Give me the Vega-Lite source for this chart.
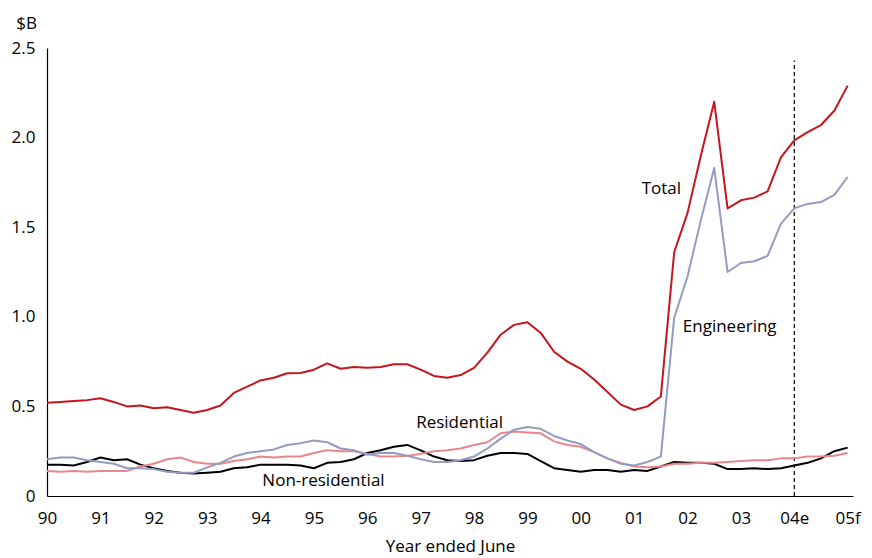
{
  "$schema": "https://vega.github.io/schema/vega-lite/v6.json",
  "autosize": {"type": "none"},
  "width": 806,
  "height": 448,
  "padding": {"left": 47, "top": 48, "right": 19, "bottom": 62},
  "background": "#ffffff",
  "config": {
    "view": {"stroke": null},
    "font": "Open Sans",
    "axis": {"grid": false, "ticks": false, "tickSize": 0, "domainColor": "#000000", "domainWidth": 1.2, "labelColor": "#000000", "labelFont": "Open Sans", "labelFontSize": 17, "titleFont": "Open Sans", "titleFontSize": 17, "titleFontWeight": "normal", "titleColor": "#000000"}
  },
  "datasets": {
    "series": [
      {"t": 1990.00, "Total": 0.52, "Engineering": 0.205, "Residential": 0.14, "Non-residential": 0.175},
      {"t": 1990.25, "Total": 0.525, "Engineering": 0.215, "Residential": 0.135, "Non-residential": 0.175},
      {"t": 1990.50, "Total": 0.53, "Engineering": 0.215, "Residential": 0.14, "Non-residential": 0.17},
      {"t": 1990.75, "Total": 0.535, "Engineering": 0.20, "Residential": 0.135, "Non-residential": 0.19},
      {"t": 1991.00, "Total": 0.545, "Engineering": 0.19, "Residential": 0.14, "Non-residential": 0.215},
      {"t": 1991.25, "Total": 0.525, "Engineering": 0.18, "Residential": 0.14, "Non-residential": 0.20},
      {"t": 1991.50, "Total": 0.50, "Engineering": 0.155, "Residential": 0.14, "Non-residential": 0.205},
      {"t": 1991.75, "Total": 0.505, "Engineering": 0.155, "Residential": 0.165, "Non-residential": 0.175},
      {"t": 1992.00, "Total": 0.49, "Engineering": 0.15, "Residential": 0.18, "Non-residential": 0.155},
      {"t": 1992.25, "Total": 0.495, "Engineering": 0.135, "Residential": 0.205, "Non-residential": 0.14},
      {"t": 1992.50, "Total": 0.48, "Engineering": 0.13, "Residential": 0.215, "Non-residential": 0.13},
      {"t": 1992.75, "Total": 0.465, "Engineering": 0.13, "Residential": 0.19, "Non-residential": 0.125},
      {"t": 1993.00, "Total": 0.48, "Engineering": 0.16, "Residential": 0.18, "Non-residential": 0.13},
      {"t": 1993.25, "Total": 0.505, "Engineering": 0.185, "Residential": 0.18, "Non-residential": 0.135},
      {"t": 1993.50, "Total": 0.575, "Engineering": 0.22, "Residential": 0.195, "Non-residential": 0.155},
      {"t": 1993.75, "Total": 0.61, "Engineering": 0.24, "Residential": 0.205, "Non-residential": 0.16},
      {"t": 1994.00, "Total": 0.645, "Engineering": 0.25, "Residential": 0.22, "Non-residential": 0.175},
      {"t": 1994.25, "Total": 0.66, "Engineering": 0.26, "Residential": 0.215, "Non-residential": 0.175},
      {"t": 1994.50, "Total": 0.685, "Engineering": 0.285, "Residential": 0.22, "Non-residential": 0.175},
      {"t": 1994.75, "Total": 0.686, "Engineering": 0.295, "Residential": 0.22, "Non-residential": 0.17},
      {"t": 1995.00, "Total": 0.705, "Engineering": 0.31, "Residential": 0.24, "Non-residential": 0.155},
      {"t": 1995.25, "Total": 0.74, "Engineering": 0.30, "Residential": 0.255, "Non-residential": 0.185},
      {"t": 1995.50, "Total": 0.71, "Engineering": 0.265, "Residential": 0.25, "Non-residential": 0.19},
      {"t": 1995.75, "Total": 0.72, "Engineering": 0.255, "Residential": 0.25, "Non-residential": 0.205},
      {"t": 1996.00, "Total": 0.715, "Engineering": 0.23, "Residential": 0.235, "Non-residential": 0.24},
      {"t": 1996.25, "Total": 0.72, "Engineering": 0.24, "Residential": 0.22, "Non-residential": 0.255},
      {"t": 1996.50, "Total": 0.735, "Engineering": 0.24, "Residential": 0.22, "Non-residential": 0.275},
      {"t": 1996.75, "Total": 0.735, "Engineering": 0.225, "Residential": 0.225, "Non-residential": 0.285},
      {"t": 1997.00, "Total": 0.705, "Engineering": 0.205, "Residential": 0.235, "Non-residential": 0.255},
      {"t": 1997.25, "Total": 0.67, "Engineering": 0.19, "Residential": 0.25, "Non-residential": 0.22},
      {"t": 1997.50, "Total": 0.66, "Engineering": 0.19, "Residential": 0.255, "Non-residential": 0.20},
      {"t": 1997.75, "Total": 0.675, "Engineering": 0.20, "Residential": 0.265, "Non-residential": 0.195},
      {"t": 1998.00, "Total": 0.715, "Engineering": 0.22, "Residential": 0.285, "Non-residential": 0.20},
      {"t": 1998.25, "Total": 0.80, "Engineering": 0.265, "Residential": 0.30, "Non-residential": 0.225},
      {"t": 1998.50, "Total": 0.90, "Engineering": 0.32, "Residential": 0.35, "Non-residential": 0.24},
      {"t": 1998.75, "Total": 0.955, "Engineering": 0.37, "Residential": 0.36, "Non-residential": 0.24},
      {"t": 1999.00, "Total": 0.97, "Engineering": 0.385, "Residential": 0.355, "Non-residential": 0.235},
      {"t": 1999.25, "Total": 0.91, "Engineering": 0.375, "Residential": 0.35, "Non-residential": 0.195},
      {"t": 1999.50, "Total": 0.805, "Engineering": 0.335, "Residential": 0.305, "Non-residential": 0.155},
      {"t": 1999.75, "Total": 0.75, "Engineering": 0.31, "Residential": 0.285, "Non-residential": 0.145},
      {"t": 2000.00, "Total": 0.71, "Engineering": 0.29, "Residential": 0.275, "Non-residential": 0.135},
      {"t": 2000.25, "Total": 0.65, "Engineering": 0.245, "Residential": 0.245, "Non-residential": 0.145},
      {"t": 2000.50, "Total": 0.58, "Engineering": 0.21, "Residential": 0.21, "Non-residential": 0.145},
      {"t": 2000.75, "Total": 0.51, "Engineering": 0.18, "Residential": 0.185, "Non-residential": 0.135},
      {"t": 2001.00, "Total": 0.48, "Engineering": 0.17, "Residential": 0.165, "Non-residential": 0.145},
      {"t": 2001.25, "Total": 0.50, "Engineering": 0.19, "Residential": 0.16, "Non-residential": 0.14},
      {"t": 2001.50, "Total": 0.555, "Engineering": 0.22, "Residential": 0.165, "Non-residential": 0.165},
      {"t": 2001.75, "Total": 1.36, "Engineering": 0.995, "Residential": 0.18, "Non-residential": 0.19},
      {"t": 2002.00, "Total": 1.58, "Engineering": 1.225, "Residential": 0.18, "Non-residential": 0.185},
      {"t": 2002.25, "Total": 1.90, "Engineering": 1.54, "Residential": 0.185, "Non-residential": 0.185},
      {"t": 2002.50, "Total": 2.20, "Engineering": 1.83, "Residential": 0.185, "Non-residential": 0.18},
      {"t": 2002.75, "Total": 1.605, "Engineering": 1.25, "Residential": 0.19, "Non-residential": 0.15},
      {"t": 2003.00, "Total": 1.65, "Engineering": 1.30, "Residential": 0.195, "Non-residential": 0.15},
      {"t": 2003.25, "Total": 1.665, "Engineering": 1.31, "Residential": 0.20, "Non-residential": 0.155},
      {"t": 2003.50, "Total": 1.70, "Engineering": 1.34, "Residential": 0.20, "Non-residential": 0.15},
      {"t": 2003.75, "Total": 1.89, "Engineering": 1.52, "Residential": 0.21, "Non-residential": 0.155},
      {"t": 2004.00, "Total": 1.985, "Engineering": 1.605, "Residential": 0.21, "Non-residential": 0.17},
      {"t": 2004.25, "Total": 2.03, "Engineering": 1.63, "Residential": 0.22, "Non-residential": 0.185},
      {"t": 2004.50, "Total": 2.07, "Engineering": 1.64, "Residential": 0.22, "Non-residential": 0.21},
      {"t": 2004.75, "Total": 2.15, "Engineering": 1.68, "Residential": 0.225, "Non-residential": 0.25},
      {"t": 2005.00, "Total": 2.29, "Engineering": 1.78, "Residential": 0.24, "Non-residential": 0.27}
    ],
    "labels": [
      {"label": "Total", "t": 2001.51, "v": 1.683},
      {"label": "Engineering", "t": 2002.79, "v": 0.915},
      {"label": "Residential", "t": 1997.73, "v": 0.379},
      {"label": "Non-residential", "t": 1995.18, "v": 0.056}
    ],
    "marker": [
      {"t": 2004, "from": 0, "to": 2.43}
    ]
  },
  "layer": [
    {
      "data": {"name": "marker"},
      "mark": {"type": "rule", "strokeDash": [4, 3], "strokeWidth": 1.2, "color": "#000000"},
      "encoding": {
        "x": {"field": "t", "type": "quantitative"},
        "y": {"field": "from", "type": "quantitative"},
        "y2": {"field": "to"}
      }
    },
    {
      "data": {"name": "series"},
      "transform": [
        {"fold": ["Non-residential", "Residential", "Engineering", "Total"], "as": ["series", "value"]}
      ],
      "mark": {"type": "line", "strokeWidth": 2, "strokeJoin": "round"},
      "encoding": {
        "x": {
          "field": "t", "type": "quantitative",
          "scale": {"domain": [1990, 2005.1], "nice": false, "zero": false},
          "axis": {
            "title": "Year ended June",
            "values": [1990, 1991, 1992, 1993, 1994, 1995, 1996, 1997, 1998, 1999, 2000, 2001, 2002, 2003, 2004, 2005],
            "labelExpr": "datum.value == 2004 ? '04e' : datum.value == 2005 ? '05f' : format(datum.value % 100, '02d')",
            "labelPadding": 14,
            "titlePadding": 12,
            "labelFlush": false,
            "labelOverlap": false
          }
        },
        "y": {
          "field": "value", "type": "quantitative",
          "scale": {"domain": [0, 2.5], "nice": false},
          "axis": {
            "title": "$B",
            "titleAngle": 0,
            "titleAlign": "center",
            "titleBaseline": "alphabetic",
            "titleX": -21,
            "titleY": -20,
            "values": [0, 0.5, 1, 1.5, 2, 2.5],
            "labelExpr": "datum.value == 0 ? '0' : format(datum.value, '.1f')",
            "labelPadding": 12,
            "labelFlush": false,
            "labelOverlap": false
          }
        },
        "color": {
          "field": "series", "type": "nominal",
          "scale": {"domain": ["Total", "Engineering", "Residential", "Non-residential"], "range": ["#c4161c", "#939bc1", "#e8878b", "#000000"]},
          "legend": null
        },
        "order": {"field": "series"},
        "detail": {"field": "series"}
      }
    },
    {
      "data": {"name": "labels"},
      "mark": {"type": "text", "font": "Open Sans", "fontSize": 17, "align": "center", "baseline": "alphabetic", "color": "#000000"},
      "encoding": {
        "x": {"field": "t", "type": "quantitative"},
        "y": {"field": "v", "type": "quantitative"},
        "text": {"field": "label"}
      }
    }
  ]
}
